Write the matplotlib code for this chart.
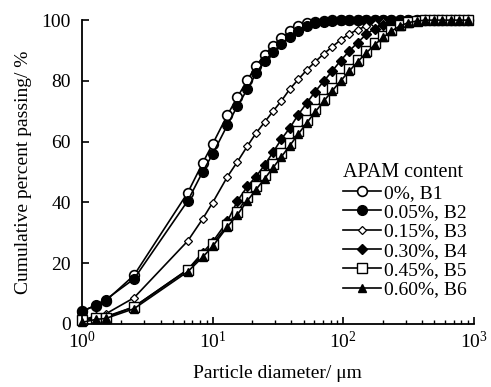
import numpy as np
import matplotlib.pyplot as plt
from matplotlib.ticker import LogLocator, NullFormatter

plt.rcParams['font.family'] = ['Liberation Serif', 'DejaVu Serif']
plt.rcParams['mathtext.fontset'] = 'stix'

# particle diameter grid (um)
d = [1.0, 1.28, 1.52, 2.5, 6.45, 8.4, 10.0, 13.0, 15.5, 18.5, 21.5, 25.0, 29.0,
     33.6, 39.0, 45.3, 52.6, 61.1, 70.9, 82.3, 95.6, 111, 129, 150, 174, 202,
     234, 272, 316, 367, 426, 494, 574, 666, 774, 898]

b1 = [4.3, 6.0, 7.6, 16.0, 43.2, 53.0, 59.2, 68.8, 74.7, 80.3, 85.0, 88.5, 91.6,
      94.0, 96.3, 98.0, 98.9, 99.5, 99.8, 100, 100, 100, 100, 100, 100, 100,
      100, 100, 100, 100, 100, 100, 100, 100, 100, 100]
b2 = [4.0, 6.3, 8.0, 14.8, 40.5, 50.1, 55.9, 65.5, 71.8, 77.3, 82.5, 86.5, 89.5,
      92.2, 94.5, 96.5, 98.0, 99.0, 99.5, 99.8, 100, 100, 100, 100, 100, 100,
      100, 100, 100, 100, 100, 100, 100, 100, 100, 100]
b3 = [1.3, 2.6, 3.3, 8.6, 27.3, 34.6, 39.9, 48.5, 53.4, 58.6, 62.8, 66.4, 70.0,
      73.4, 77.3, 80.5, 83.6, 86.3, 88.9, 91.2, 93.5, 95.4, 96.9, 98.0, 98.8, 99.4,
      99.7, 99.9, 100, 100, 100, 100, 100, 100, 100, 100]
b4 = [0.9, 2.0, 2.4, 5.6, 17.9, 23.5, 27.0, 33.8, 40.5, 45.3, 48.5, 52.3, 56.5,
      60.8, 64.5, 68.9, 72.7, 76.5, 79.9, 83.2, 86.7, 89.8, 92.6, 95.3, 97.2, 98.5,
      99.3, 99.7, 100, 100, 100, 100, 100, 100, 100, 100]
b5 = [1.3, 2.0, 2.1, 5.6, 17.8, 22.7, 26.3, 32.6, 37.0, 41.8, 45.4, 48.9, 52.5,
      56.1, 59.7, 63.5, 67.2, 70.8, 74.2, 77.6, 80.8, 84.0, 87.0, 89.8, 92.5, 94.8,
      96.8, 98.4, 99.3, 99.8, 100, 100, 100, 100, 100, 100]
b6 = [0.5, 1.5, 1.8, 5.0, 17.2, 22.0, 25.5, 32.0, 36.0, 40.6, 44.2, 47.8, 51.4,
      55.0, 58.7, 62.5, 66.2, 69.8, 73.3, 76.7, 80.0, 83.2, 86.3, 89.2, 91.9, 94.3,
      96.4, 98.1, 99.2, 99.7, 100, 100, 100, 100, 100, 100]

labels = ['0%, B1', '0.05%, B2', '0.15%, B3', '0.30%, B4', '0.45%, B5', '0.60%, B6']

fig = plt.figure(figsize=(4.91, 3.87), dpi=100)
ax = fig.add_axes([0.167, 0.163, 0.798, 0.785])

ax.plot(d, b1, '-o', color='k', mfc='white', mec='k', ms=7, mew=1.2, lw=1.2, label=labels[0], clip_on=False)
ax.plot(d, b2, '-o', color='k', mfc='k', mec='k', ms=7, lw=1.2, label=labels[1], clip_on=False)
ax.plot(d, b3, '-D', color='k', mfc='white', mec='k', ms=4.5, mew=0.9, lw=1.2, label=labels[2], clip_on=False)
ax.plot(d, b4, '-D', color='k', mfc='k', mec='k', ms=5, lw=1.2, label=labels[3], clip_on=False)
ax.plot(d, b5, '-s', color='k', mfc='white', mec='k', ms=7, mew=1.0, lw=1.2, label=labels[4], clip_on=False)
ax.plot(d, b6, '-^', color='k', mfc='k', mec='k', ms=6, lw=1.2, label=labels[5], clip_on=False)

ax.set_xscale('log')
ax.set_xlim(1, 1000)
ax.set_ylim(0, 100)
ax.set_yticks([0, 20, 40, 60, 80, 100])
ax.xaxis.set_minor_locator(LogLocator(base=10, subs=np.arange(2, 10)))
ax.xaxis.set_minor_formatter(NullFormatter())
ax.spines['top'].set_visible(False)
ax.spines['right'].set_visible(False)
for s in ['left', 'bottom']:
    ax.spines[s].set_linewidth(1.3)
ax.tick_params(which='major', direction='in', length=5, width=1.2, labelsize=14, pad=5)
ax.tick_params(which='minor', direction='in', length=3, width=1.0)
ax.tick_params(axis='y', pad=8)

ax.set_xlabel('Particle diameter/ μm', fontsize=14, labelpad=9)
ax.set_ylabel('Cumulative percent passing/ %', fontsize=14, labelpad=7)

leg = ax.legend(title='APAM content', loc='upper left', bbox_to_anchor=(0.699, 0.578),
                bbox_transform=fig.transFigure, frameon=False, fontsize=14,
                title_fontsize=14.5, handlelength=1.95, handletextpad=0.15,
                labelspacing=0.09, borderpad=0.0, borderaxespad=0.0)
leg._legend_box.align = 'left'

fig.savefig('out.png', dpi=100)
